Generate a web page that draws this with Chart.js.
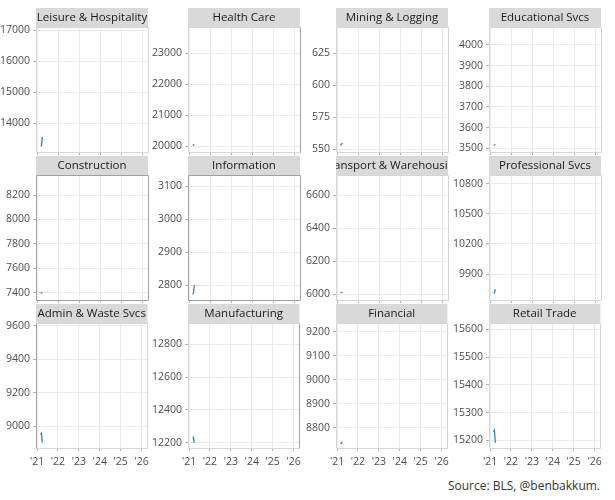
<!DOCTYPE html>
<html>
<head>
<meta charset="utf-8">
<script src="https://cdn.jsdelivr.net/npm/chart.js@4.4.1/dist/chart.umd.min.js"></script>
<style>
  body { margin: 0; background: #fff; font-family: 'Open Sans', sans-serif; }
  #wrap { position: relative; width: 615px; height: 500px; overflow: hidden; }
  #wrap canvas { position: absolute; }
  #source { position: absolute; right: 15px; top: 478px; font-size: 12px; line-height: 16px; color: #333; }
</style>
</head>
<body>
<div id="wrap">
  <div id="source">Source: BLS, @benbakkum.</div>
</div>
<script>
// Panels (facet order) and the few months shown in this frame
const panels = ['Leisure & Hospitality', 'Health Care', 'Mining & Logging', 'Educational Svcs',
    'Construction', 'Information', 'Transport & Warehousing', 'Professional Svcs',
    'Admin & Waste Svcs', 'Manufacturing', 'Financial', 'Retail Trade'];
const dates = [2021.17, 2021.21, 2021.25];

// Employment, thousands
const leisure = [13258, 13268, 13548];
const healthCare = [20020, 20035, 20050];
const mining = [553, 554, 555];
const educational = [3514, 3516, 3518];
const construction = [7397, 7399, 7401];
const information = [2773, 2776, 2800];
const transport = [6008, 6011, 6014];
const professional = [9710, 9714, 9750];
const adminWaste = [8952, 8960, 8904];
const manufacturing = [12226, 12231, 12200];
const financial = [8731, 8735, 8741];
const retail = [15230, 15236, 15191];
const series = [leisure, healthCare, mining, educational, construction, information,
    transport, professional, adminWaste, manufacturing, financial, retail];

// Axis ticks and limits for each panel (free y scales)
const yearTicks = [2021, 2022, 2023, 2024, 2025, 2026];
const xLimits = [2020.95, 2026.28];
const yTicks = [
    [14000, 15000, 16000, 17000], [20000, 21000, 22000, 23000], [550, 575, 600, 625],
    [3500, 3600, 3700, 3800, 3900, 4000], [7400, 7600, 7800, 8000, 8200], [2800, 2900, 3000, 3100],
    [6000, 6200, 6400, 6600], [9900, 10200, 10500, 10800], [9000, 9200, 9400, 9600],
    [12200, 12400, 12600, 12800], [8800, 8900, 9000, 9100, 9200], [15200, 15300, 15400, 15500, 15600]
];
const yLimits = [
    [13065, 17097], [19806, 23850], [547.9, 645.5], [3482, 4087], [7340, 8365], [2755, 3135],
    [5966, 6722], [9643, 10886], [8872, 9616], [12167, 12931], [8715, 9237], [15172, 15623]
];

// Layout of the grid
const AXIS_W = 36, PLOT_W = 112, STRIP_H = 19, PLOT_H = 125;
const plotLeft = [36, 188, 336, 489];
const plotTop = [27, 175, 323];
const darkSides = { 'Construction': 'tlrb', 'Information': 'tlrb', 'Health Care': 'r',
    'Manufacturing': 'r', 'Admin & Waste Svcs': 'l' };

Chart.defaults.font.family = "'Open Sans', sans-serif";
Chart.defaults.font.size = 10.5;
Chart.defaults.color = '#4d4d4d';

// Gray strip with the facet name, clipped to the panel width
const stripPlugin = {
    id: 'strip',
    afterDraw(chart, args, opts) {
        const { ctx, chartArea: a } = chart;
        const w = a.right - a.left;
        ctx.save();
        ctx.fillStyle = '#d9d9d9';
        ctx.fillRect(a.left, a.top - STRIP_H, w, STRIP_H);
        ctx.beginPath();
        ctx.rect(a.left, a.top - STRIP_H, w, STRIP_H);
        ctx.clip();
        ctx.fillStyle = '#1a1a1a';
        ctx.font = "11.5px 'Open Sans', sans-serif";
        ctx.textAlign = 'center';
        ctx.textBaseline = 'middle';
        ctx.fillText(opts.text, a.left + w / 2, a.top - STRIP_H / 2 + 0.5);
        ctx.restore();
    }
};

// Panel frame, some sides darker
const framePlugin = {
    id: 'frame',
    afterDatasetsDraw(chart, args, opts) {
        const { ctx, chartArea: a } = chart;
        const sides = {
            t: [a.left, a.top, a.right, a.top],
            b: [a.left, a.bottom, a.right, a.bottom],
            l: [a.left, a.top, a.left, a.bottom],
            r: [a.right, a.top, a.right, a.bottom]
        };
        ctx.save();
        ctx.lineWidth = 1;
        for (const s of 'tblr') {
            const [x1, y1, x2, y2] = sides[s];
            ctx.strokeStyle = opts.dark.includes(s) ? '#a0a0a0' : '#d6d6d6';
            ctx.beginPath();
            ctx.moveTo(Math.round(x1) + 0.5, Math.round(y1) + 0.5);
            ctx.lineTo(Math.round(x2) + 0.5, Math.round(y2) + 0.5);
            ctx.stroke();
        }
        ctx.restore();
    }
};

function makePanel(i) {
    const col = i % 4;
    const row = Math.floor(i / 4);
    const bottomRow = row === 2;
    const xh = bottomRow ? 24 : 12;
    const w = AXIS_W + PLOT_W + 6;
    const h = STRIP_H + PLOT_H + xh;

    const canvas = document.createElement('canvas');
    canvas.width = w;
    canvas.height = h;
    canvas.style.left = (plotLeft[col] - AXIS_W) + 'px';
    canvas.style.top = (plotTop[row] - STRIP_H) + 'px';
    document.getElementById('wrap').appendChild(canvas);

    const ticksY = yTicks[i];
    new Chart(canvas, {
        type: 'line',
        data: {
            datasets: [{
                data: dates.map((d, k) => ({ x: d, y: series[i][k] })),
                borderColor: '#2079c0',
                borderWidth: 1.2,
                pointRadius: 0,
                tension: 0
            }]
        },
        options: {
            responsive: false,
            animation: false,
            layout: { padding: { top: STRIP_H, right: 6, left: 0, bottom: 0 } },
            plugins: {
                legend: { display: false },
                tooltip: { enabled: false },
                strip: { text: panels[i] },
                frame: { dark: darkSides[panels[i]] || '' }
            },
            scales: {
                x: {
                    type: 'linear',
                    min: xLimits[0],
                    max: xLimits[1],
                    afterBuildTicks: s => { s.ticks = yearTicks.map(v => ({ value: v })); },
                    afterFit: s => { s.height = xh; },
                    ticks: {
                        display: bottomRow,
                        autoSkip: false,
                        maxRotation: 0,
                        padding: 5,
                        callback: v => "'" + String(v).slice(2)
                    },
                    grid: { color: '#ebebeb', tickColor: '#b3b3b3', tickLength: 3 },
                    border: { display: false }
                },
                y: {
                    min: yLimits[i][0],
                    max: yLimits[i][1],
                    afterBuildTicks: s => { s.ticks = ticksY.map(v => ({ value: v })); },
                    afterFit: s => { s.width = AXIS_W; },
                    ticks: { autoSkip: false, padding: 3, callback: v => String(v) },
                    grid: { color: '#ebebeb', tickColor: '#b3b3b3', tickLength: 3 },
                    border: { display: false }
                }
            }
        },
        plugins: [stripPlugin, framePlugin]
    });
}

panels.forEach((p, i) => makePanel(i));
</script>
</body>
</html>
